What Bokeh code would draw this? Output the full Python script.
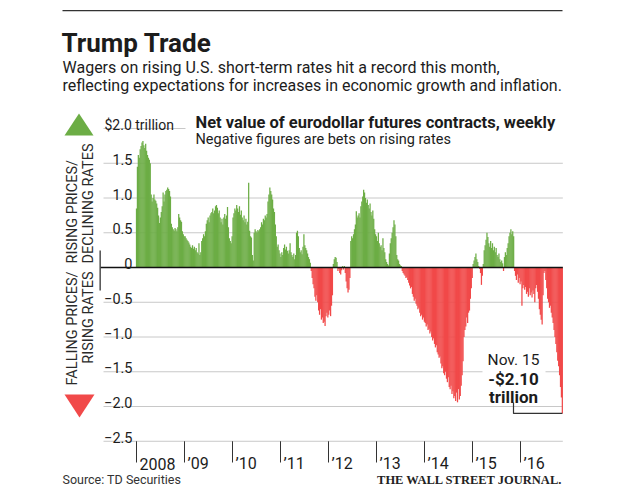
from datetime import date, timedelta
import math

from bokeh.plotting import figure
from bokeh.models import Range1d, Label, PolyAnnotation, BoxAnnotation, ColumnDataSource
from bokeh.core.properties import value
from bokeh.embed import file_html
from bokeh.resources import INLINE

# ---------------- data (net value, $ trillion, weekly from Jan 1 2008) ----------------
first_week = date(2008, 1, 1)
v2008 = [0.85, 1.45, 1.62, 1.58, 1.70, 1.75, 1.80, 1.82, 1.76, 1.72,
         1.78, 1.68, 1.62, 1.58, 1.55, 1.50, 1.05, 0.95, 1.00, 1.05,
         0.98, 0.96, 0.92, 0.86, 0.75, 0.64, 0.72, 0.80, 0.88, 1.08,
         0.95, 1.05, 1.10, 1.12, 1.15, 1.13, 1.10, 1.02, 0.63, 0.58,
         0.55, 0.53, 0.57, 0.55, 0.52, 0.58, 0.77, 0.72, 0.68, 0.66,
         0.52, 0.48, 0.45]
v2009 = [0.45, 0.42, 0.40, 0.38, 0.36, 0.33, 0.30, 0.28, 0.32, 0.27,
         0.30, 0.25, 0.28, 0.22, 0.20, 0.35, 0.18, 0.22, 0.38, 0.42,
         0.48, 0.45, 0.52, 0.63, 0.68, 0.72, 0.65, 0.75, 0.78, 0.80,
         0.85, 0.78, 0.82, 0.88, 0.90, 0.86, 0.78, 0.82, 0.72, 0.65,
         0.70, 0.62, 0.72, 0.77, 0.70, 0.75, 0.87, 0.58, 0.42, 0.38,
         0.35, 0.45]
v2010 = [0.72, 0.78, 0.85, 0.82, 0.90, 0.85, 0.80, 0.88, 0.76, 0.82,
         0.72, 0.68, 0.75, 0.65, 0.70, 0.62, 0.66, 1.22, 0.53, 0.45,
         0.43, 0.18, 0.10, 0.50, 0.55, 0.52, 0.50, 0.54, 0.52, 0.55,
         0.58, 0.65, 0.62, 0.70, 0.68, 0.75, 0.72, 0.77, 0.95, 1.05,
         1.15, 1.10, 1.05, 0.98, 0.85, 0.80, 0.62, 0.45, 0.30, 0.33,
         0.25, 0.20]
v2011 = [0.15, 0.22, 0.18, 0.28, 0.33, 0.26, 0.30, 0.24, 0.20, 0.25,
         0.35, 0.22, 0.18, 0.15, 0.20, 0.12, 0.18, 0.50, 0.53, 0.45,
         0.28, 0.22, 0.25, 0.19, 0.30, 0.48, 0.32, 0.28, 0.25, 0.20,
         0.15, 0.12, 0.07, -0.05, -0.15, -0.24, -0.30, -0.42, -0.48, -0.40,
         -0.50, -0.62, -0.68, -0.60, -0.75, -0.72, -0.80, -0.78, -0.84, -0.70,
         -0.65, -0.72]
v2012 = [-0.68, -0.62, -0.70, -0.55, -0.40, 0.05, 0.12, 0.15, 0.14, 0.08,
         -0.05, -0.02, -0.08, -0.10, -0.04, 0.02, -0.03, 0.02, -0.08, -0.20,
         -0.30, -0.36, -0.32, -0.15, 0.38, 0.45, 0.42, 0.48, 0.55, 0.62,
         0.81, 0.72, 0.75, 0.78, 0.72, 0.88, 0.95, 1.02, 1.12, 1.08,
         1.00, 0.93, 0.98, 0.90, 0.85, 0.92, 0.80, 0.75, 0.82, 0.70,
         0.55, 0.48]
v2013 = [0.45, 0.38, 0.50, 0.35, 0.30, 0.32, 0.25, 0.42, 0.28, 0.22,
         0.12, 0.08, 0.05, 0.03, 0.20, 0.35, 0.42, 0.50, 0.58, 0.68,
         0.62, 0.45, 0.18, 0.12, 0.10, 0.05, 0.03, 0.02, -0.05, -0.08,
         -0.10, -0.12, -0.15, -0.14, -0.18, -0.22, -0.26, -0.30, -0.28, -0.38,
         -0.42, -0.48, -0.45, -0.52, -0.55, -0.60, -0.58, -0.65, -0.70, -0.68,
         -0.75, -0.72, -0.78]
v2014 = [-0.80, -0.85, -0.82, -0.90, -0.88, -0.95, -0.92, -1.00, -1.05, -1.02,
         -1.10, -1.15, -1.12, -1.22, -1.25, -1.30, -1.28, -1.38, -1.45, -1.42,
         -1.52, -1.55, -1.50, -1.60, -1.65, -1.58, -1.72, -1.75, -1.70, -1.82,
         -1.78, -1.88, -1.85, -1.92, -1.80, -1.94, -1.75, -1.90, -1.85, -1.70,
         -1.55, -1.35, -1.00, -0.90, -0.85, -0.72, -0.80, -0.65, -0.62, -0.45,
         -0.30, -0.15]
v2015 = [0.05, 0.10, 0.15, 0.20, 0.12, 0.08, 0.02, -0.02, -0.08, -0.25,
         -0.12, 0.05, 0.25, 0.32, 0.40, 0.50, 0.44, 0.35, 0.30, 0.38,
         0.28, 0.35, 0.25, 0.30, 0.22, 0.28, 0.18, 0.15, 0.20, 0.12,
         0.08, 0.10, 0.06, -0.05, 0.15, 0.22, 0.18, 0.28, 0.35, 0.45,
         0.50, 0.55, 0.48, 0.52, 0.45, -0.05, -0.12, -0.18, -0.10, -0.22,
         -0.15, -0.24]
v2016 = [-0.20, -0.55, -0.30, -0.25, -0.32, -0.28, -0.38, -0.35, -0.42, -0.30,
         -0.40, -0.36, -0.43, -0.33, -0.38, -0.50, -0.30, -0.25, -0.35, -0.45,
         -0.60, -0.68, -0.75, -0.82, -0.40, -0.08, -0.05, -0.18, -0.30, -0.45,
         -0.50, -0.58, -0.55, -0.65, -0.72, -0.80, -0.90, -1.00, -1.10, -1.22,
         -1.34, -1.42, -1.55, -1.72, -1.87, -2.10]

y_ticks = [1.5, 1.0, 0.5, 0.0, -0.5, -1.0, -1.5, -2.0, -2.5]
y_tick_labels = ["1.5", "1.0", "0.5", "0", "\u22120.5", "\u22121.0", "\u22121.5", "\u22122.0", "\u22122.5"]
grid_vals = [1.5, 1.0, 0.5, -0.5, -1.0, -1.5, -2.0, -2.5]
top_value = 2.0
top_label = "$2.0 trillion"
years = [2008, 2009, 2010, 2011, 2012, 2013, 2014, 2015, 2016]
year_labels = ["2008", "\u201909", "\u201910", "\u201911", "\u201912", "\u201913", "\u201914", "\u201915", "\u201916"]

# ---------------- layout helpers (picture pixels -> data) ----------------
W, H = 614, 488
ORIGIN = 0         # picture pixel of the canvas' top-left corner
ORIGIN_X = 136.0   # picture x of 2008.0
PX_YEAR = 48.0
ZERO_Y = 267.0     # picture y of value 0
PX_UNIT = 69.5


def X(px):
    return 2008 + (px - ORIGIN_X) / PX_YEAR


def Y(py):
    return (ZERO_Y - py) / PX_UNIT


FONT = "Roboto"
SERIF = "Liberation Serif"
GREEN = "#6CAD45"
RED = "#F14949"
INK = "#1c1c1c"
GRID = "#c8c8c8"

values = v2008 + v2009 + v2010 + v2011 + v2012 + v2013 + v2014 + v2015 + v2016


def frac_year(d):
    y0 = date(d.year, 1, 1)
    n = (date(d.year + 1, 1, 1) - y0).days
    return d.year + (d - y0).days / n


dates = [first_week + timedelta(weeks=i) for i in range(len(values))]
xs = [frac_year(d) for d in dates]
colors = [GREEN if v >= 0 else RED for v in values]
src = ColumnDataSource(dict(x=xs, top=values, color=colors))

p = figure(width=W, height=H, output_backend="svg", toolbar_location=None,
           x_range=Range1d(X(ORIGIN), X(ORIGIN + W)),
           y_range=Range1d(Y(ORIGIN + H), Y(ORIGIN)),
           x_axis_location=None, y_axis_location=None, min_border=0,
           tools="")
p.grid.visible = False
p.outline_line_color = None
p.background_fill_color = "white"
p.border_fill_color = "white"

# gridlines
x_left, x_right = X(103), xs[-1] + 3.8 / 365.0
p.segment(x0=[x_left] * len(grid_vals), x1=[x_right] * len(grid_vals),
          y0=grid_vals, y1=grid_vals, line_color=GRID, line_width=1)
p.segment(x0=[x_left], x1=[X(185)], y0=[top_value], y1=[top_value], line_color=GRID, line_width=1)

# bars (slightly wider than a week so that adjacent weeks fuse)
p.vbar(x="x", top="top", bottom=0, width=9.5 / 365.0, source=src,
       fill_color="color", line_color=None)

# zero line
p.segment(x0=[X(100)], x1=[x_right], y0=[0], y1=[0], line_color="#111111", line_width=1.6)

# x ticks and labels
p.segment(x0=years, x1=years, y0=[-2.5] * len(years), y1=[Y(462)] * len(years),
          line_color="#333333", line_width=1)
p.text(x=years, y=[Y(463)] * len(years), text=year_labels, x_offset=3,
       text_align="left", text_baseline="alphabetic",
       text_font=value(FONT), text_font_size=value("16px"), text_color=INK)

# y labels
p.text(x=[X(132)] * len(y_ticks), y=y_ticks, text=y_tick_labels, y_offset=-4,
       text_align="right", text_baseline="alphabetic",
       text_font=value(FONT), text_font_size=value("14.5px"), text_color=INK)
p.text(x=[X(104)], y=[top_value], text=[top_label], y_offset=-4,
       text_align="left", text_baseline="alphabetic",
       text_font=value(FONT), text_font_size=value("14px"), text_color=INK)


def label(px, py, text, size, bold=False, align="left", font=FONT, color=INK, angle=0.0, baseline="alphabetic"):
    p.add_layout(Label(x=X(px), y=Y(py), text=text, text_font=font,
                       text_font_size=size, text_font_style="bold" if bold else "normal",
                       text_align=align, text_baseline=baseline, text_color=color,
                       angle=angle))


# top rule
p.add_layout(BoxAnnotation(left=X(62), right=X(562), top=Y(9.5), bottom=Y(10.8),
                           fill_color="#333333", fill_alpha=1, line_color=None))

# titles
label(61, 42, "Trump Trade", "26px", bold=True)
label(62, 67, "Wagers on rising U.S. short-term rates hit a record this month,", "16px")
label(62, 85, "reflecting expectations for increases in economic growth and inflation.", "16px")
label(195, 122, "Net value of eurodollar futures contracts, weekly", "16.5px", bold=True)
label(195, 139, "Negative figures are bets on rising rates", "14.5px")

# side legend
p.add_layout(PolyAnnotation(xs=[X(64), X(93), X(78.5)], ys=[Y(135), Y(135), Y(113)],
                            fill_color=GREEN, fill_alpha=1, line_color=None))
p.add_layout(PolyAnnotation(xs=[X(64), X(94), X(79)], ys=[Y(394), Y(394), Y(417)],
                            fill_color=RED, fill_alpha=1, line_color=None))
label(72, 263, "RISING PRICES/", "14.5px", angle=math.pi / 2, baseline="middle", color="#2a2a2a")
label(88, 263, "DECLINING RATES", "14.5px", angle=math.pi / 2, baseline="middle", color="#2a2a2a")
label(72, 271, "FALLING PRICES/", "14.5px", align="right", angle=math.pi / 2, baseline="middle", color="#2a2a2a")
label(88, 271, "RISING RATES", "14.5px", align="right", angle=math.pi / 2, baseline="middle", color="#2a2a2a")
p.add_layout(BoxAnnotation(left=X(99), right=X(100.3), top=Y(250), bottom=Y(290),
                           fill_color="#333333", fill_alpha=1, line_color=None))

# annotation for the last value
p.add_layout(BoxAnnotation(left=X(482), right=X(545), top=Y(364), bottom=Y(377),
                           fill_color="white", fill_alpha=1, line_color=None))
label(513, 359, "Nov. 15", "15.5px", align="center")
label(513, 378, "-$2.10", "17px", bold=True, align="center")
label(513, 396, "trillion", "17px", bold=True, align="center")
p.line(x=[X(513), X(513), xs[-1]], y=[Y(402), values[-1], values[-1]],
       line_color="#333333", line_width=1.2)

# footer
label(62, 479, "Source: TD Securities", "12.5px", color="#333333")
label(562, 479, "THE WALL STREET JOURNAL.", "12.5px", bold=True, align="right", font=SERIF, color="#222222")

open("out.html", "w").write(file_html(p, INLINE))
